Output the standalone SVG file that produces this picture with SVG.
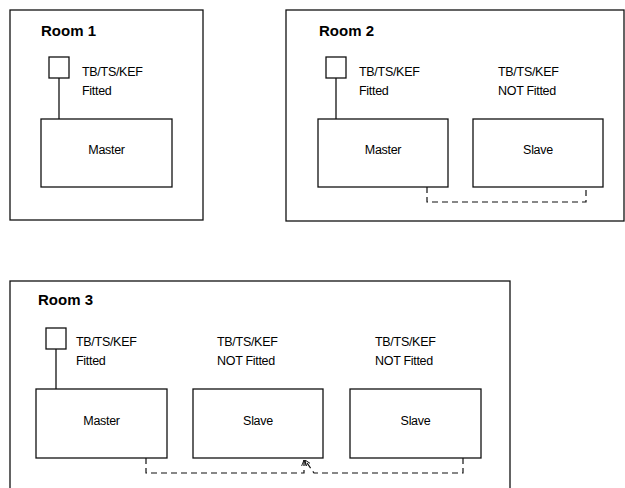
<svg xmlns="http://www.w3.org/2000/svg" width="625" height="488" viewBox="0 0 625 488">
<defs>
<style>
.room{fill:none;stroke:#111;stroke-width:1.3}
.box{fill:#fff;stroke:#111;stroke-width:1.3}
.ttl{font-family:"Liberation Sans",Arial,sans-serif;font-weight:bold;font-size:15px;fill:#000}
.lbl{font-family:"Liberation Sans",Arial,sans-serif;font-size:12.5px;fill:#000;letter-spacing:-0.3px}
.ctr{text-anchor:middle}
.solid{fill:none;stroke:#111;stroke-width:1.3}
.dash{fill:none;stroke:#111;stroke-width:1.2;stroke-dasharray:6 4}
</style>
<marker id="arr" viewBox="0 0 10 10" refX="10" refY="5" markerWidth="5" markerHeight="5" orient="auto">
<path d="M0,1 L10,5 L0,9" fill="none" stroke="#111" stroke-width="1.5"/>
</marker>
</defs>
<rect width="625" height="488" fill="#fff"/>

<g id="room1">
<rect class="room" x="10" y="10" width="193" height="210"/>
<text class="ttl" x="41" y="36">Room 1</text>
</g>
<g id="room2">
<rect class="room" x="286" y="10" width="338" height="211"/>
<text class="ttl" x="319" y="36">Room 2</text>
</g>
<g id="room3">
<rect class="room" x="10" y="281" width="500" height="220"/>
<text class="ttl" x="38" y="305">Room 3</text>
</g>

<g id="r1-sensor">
<rect class="box" x="49" y="57" width="20" height="21"/>
<text class="lbl" x="82" y="76">TB/TS/KEF</text>
<text class="lbl" x="82" y="95">Fitted</text>
</g>
<g id="r1-master">
<rect class="box" x="41" y="119" width="131" height="68"/>
<text class="lbl ctr" x="106.5" y="154">Master</text>
</g>

<g id="r2-sensor">
<rect class="box" x="326" y="57" width="20" height="21"/>
<text class="lbl" x="359" y="76">TB/TS/KEF</text>
<text class="lbl" x="359" y="95">Fitted</text>
</g>
<g id="r2-master">
<rect class="box" x="318" y="119" width="130" height="68"/>
<text class="lbl ctr" x="383" y="154">Master</text>
</g>
<g id="r2-slave">
<text class="lbl" x="498" y="76">TB/TS/KEF</text>
<text class="lbl" x="498" y="95">NOT Fitted</text>
<rect class="box" x="473" y="119" width="130" height="68"/>
<text class="lbl ctr" x="538" y="154">Slave</text>
</g>

<g id="r3-sensor">
<rect class="box" x="46" y="328" width="20" height="21"/>
<text class="lbl" x="76" y="346">TB/TS/KEF</text>
<text class="lbl" x="76" y="365">Fitted</text>
</g>
<g id="r3-master">
<rect class="box" x="36" y="389" width="131" height="69"/>
<text class="lbl ctr" x="101.5" y="425">Master</text>
</g>
<g id="r3-slave1">
<text class="lbl" x="217" y="346">TB/TS/KEF</text>
<text class="lbl" x="217" y="365">NOT Fitted</text>
<rect class="box" x="193" y="389" width="130" height="69"/>
<text class="lbl ctr" x="258" y="425">Slave</text>
</g>
<g id="r3-slave2">
<text class="lbl" x="375" y="346">TB/TS/KEF</text>
<text class="lbl" x="375" y="365">NOT Fitted</text>
<rect class="box" x="350" y="389" width="131" height="69"/>
<text class="lbl ctr" x="415.5" y="425">Slave</text>
</g>

<g id="connectors">
<line class="solid" x1="59" y1="78" x2="59" y2="119"/>
<line class="solid" x1="336" y1="78" x2="336" y2="119"/>
<line class="solid" x1="56" y1="349" x2="56" y2="389"/>
<path class="dash" d="M427,187 V202 H586 V187"/>
<path class="dash" d="M146,458 V473 H304 V460" marker-end="url(#arr)"/>
<path class="dash" d="M463,458 V473 H314 L305,460" marker-end="url(#arr)"/>
</g>
</svg>
